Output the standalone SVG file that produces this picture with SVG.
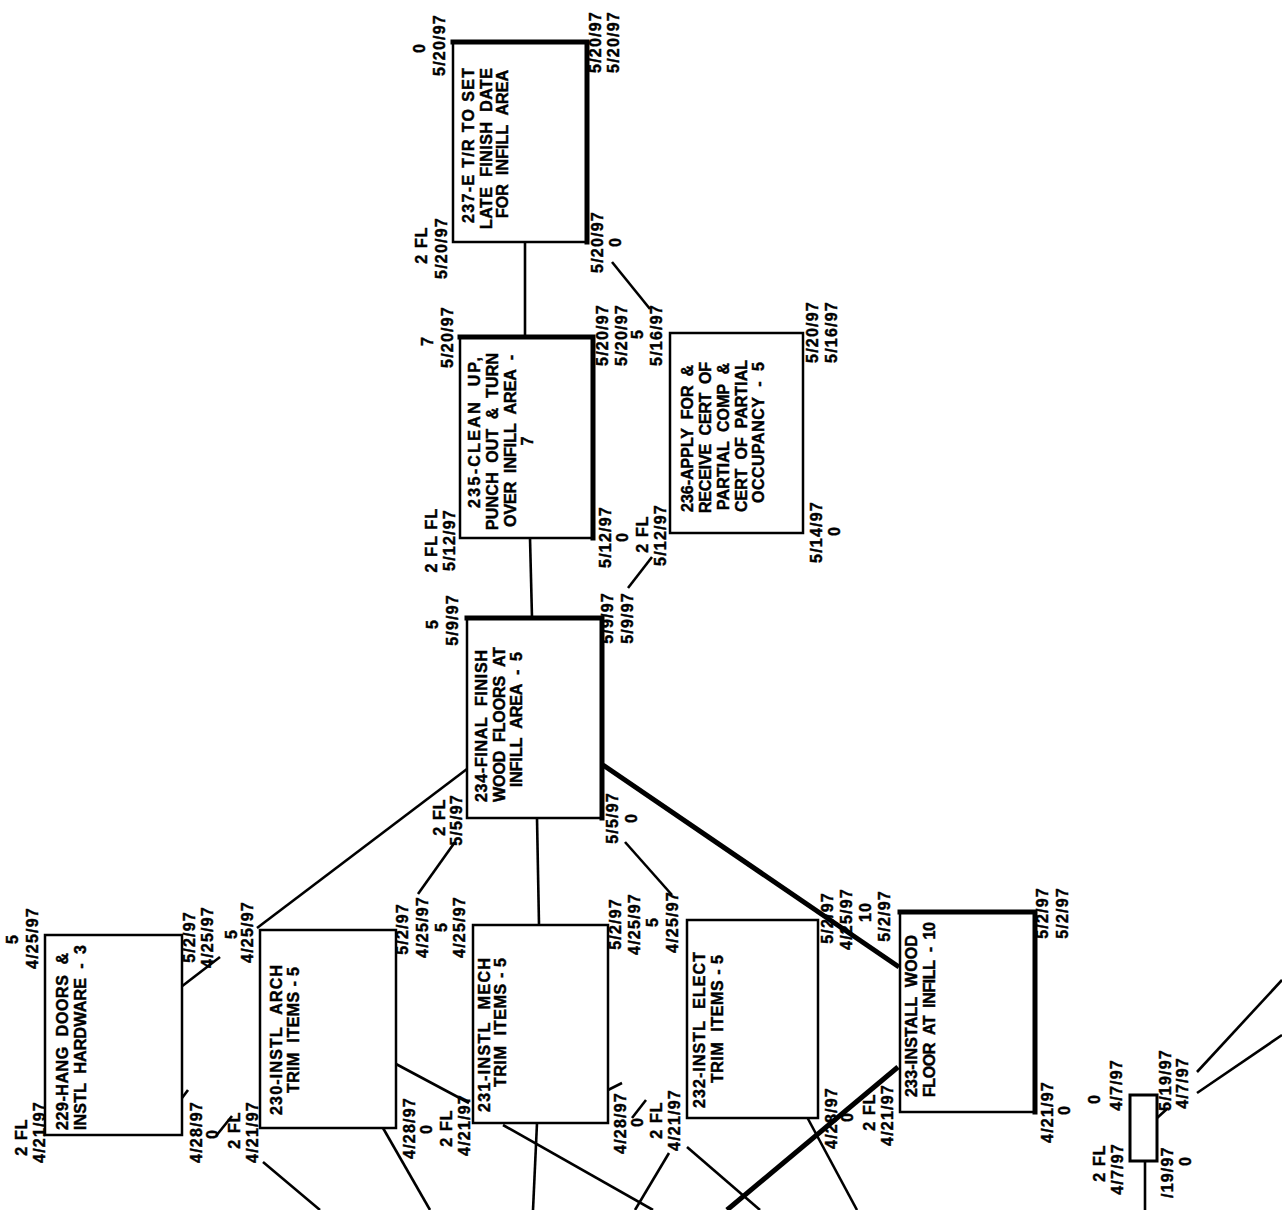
<svg xmlns="http://www.w3.org/2000/svg" width="1282" height="1210" viewBox="0 0 1282 1210">
<style>
text{font-family:"Liberation Sans",Arial,sans-serif;font-weight:bold;font-size:16px;fill:#000;stroke:#000;stroke-width:0.45}
.l{letter-spacing:1.2px;text-anchor:middle}
.m{text-anchor:middle}
.box{fill:#fff;stroke:#000;stroke-width:2.5}
.thk{fill:none;stroke:#000;stroke-width:5;stroke-linecap:square}
.c{fill:none;stroke:#000;stroke-width:2.6}
.ct{fill:none;stroke:#000;stroke-width:5}
</style>
<rect width="1282" height="1210" fill="#fff"/>
<g id="connectors">
<line class="c" x1="525" y1="242" x2="525" y2="337"/>
<line class="c" x1="530" y1="538" x2="532" y2="618"/>
<line class="c" x1="612" y1="262" x2="650" y2="309"/>
<line class="c" x1="628" y1="588" x2="652" y2="557"/>
<line class="c" x1="467" y1="769" x2="257" y2="928"/>
<line class="c" x1="455" y1="842" x2="418" y2="894"/>
<line class="c" x1="537" y1="818" x2="539" y2="925"/>
<line class="c" x1="625" y1="842" x2="672" y2="895"/>
<line class="ct" x1="603" y1="765" x2="899" y2="967"/>
<line class="c" x1="181" y1="987" x2="220" y2="957"/>
<line class="c" x1="216" y1="1136" x2="232" y2="1116"/>
<line class="c" x1="182" y1="1098" x2="188" y2="1090"/>
<line class="c" x1="396" y1="1064" x2="469" y2="1103"/>
<line class="c" x1="383" y1="1128" x2="430" y2="1210"/>
<line class="c" x1="263" y1="1162" x2="320" y2="1210"/>
<line class="c" x1="537" y1="1123" x2="533" y2="1210"/>
<line class="c" x1="503" y1="1125" x2="653" y2="1210"/>
<line class="c" x1="669" y1="1153" x2="635" y2="1210"/>
<line class="c" x1="687" y1="1147" x2="760" y2="1210"/>
<line class="ct" x1="898" y1="1067" x2="727" y2="1210"/>
<line class="c" x1="807" y1="1117" x2="857" y2="1210"/>
<line class="c" x1="632" y1="1118" x2="646" y2="1100"/>
<line class="c" x1="608" y1="1090" x2="622" y2="1083"/>
<line class="c" x1="1145" y1="1161" x2="1145" y2="1210"/>
<line class="c" x1="1157" y1="1118" x2="1168" y2="1108"/>
<line class="c" x1="1282" y1="980" x2="1197" y2="1072"/>
<line class="c" x1="1282" y1="1035" x2="1197" y2="1093"/>
</g>
<g id="n237">
<rect class="box" x="453" y="42" width="134" height="200"/>
<polyline class="thk" points="453,42 587,42 587,242"/>
<text transform="translate(474,223) rotate(-90)" textLength="155" lengthAdjust="spacing">237-E T/R TO SET</text>
<text transform="translate(492,229) rotate(-90)" textLength="161" lengthAdjust="spacing">LATE&#160;&#160;FINISH&#160;&#160;DATE</text>
<text transform="translate(508,218) rotate(-90)" textLength="148" lengthAdjust="spacing">FOR&#160;&#160;INFILL&#160;&#160;AREA</text>
<text class="l" transform="translate(425,48) rotate(-90)">0</text>
<text class="l" transform="translate(445,45) rotate(-90)">5/20/97</text>
<text class="l" transform="translate(427,245) rotate(-90)">2 FL</text>
<text class="l" transform="translate(447,248) rotate(-90)">5/20/97</text>
<text class="l" transform="translate(601,42) rotate(-90)">5/20/97</text>
<text class="l" transform="translate(619,42) rotate(-90)">5/20/97</text>
<text class="l" transform="translate(603,242) rotate(-90)">5/20/97</text>
<text class="l" transform="translate(621,242) rotate(-90)">0</text>
</g>
<g id="n235">
<rect class="box" x="460" y="337" width="133" height="201"/>
<polyline class="thk" points="460,337 593,337 593,538"/>
<text transform="translate(480,508) rotate(-90)" textLength="151" lengthAdjust="spacing">235-CLEAN&#160;&#160;UP,</text>
<text transform="translate(498,530) rotate(-90)" textLength="177" lengthAdjust="spacing">PUNCH&#160;&#160;OUT&#160;&#160;&amp;&#160;&#160;TURN</text>
<text transform="translate(516,527) rotate(-90)" textLength="172" lengthAdjust="spacing">OVER&#160;&#160;INFILL&#160;&#160;AREA&#160;&#160;-</text>
<text class="m" transform="translate(533,441) rotate(-90)">7</text>
<text class="l" transform="translate(433,341) rotate(-90)">7</text>
<text class="l" transform="translate(453,337) rotate(-90)">5/20/97</text>
<text class="l" transform="translate(437,540) rotate(-90)">2 FL FL</text>
<text class="l" transform="translate(455,540) rotate(-90)">5/12/97</text>
<text class="l" transform="translate(608,335) rotate(-90)">5/20/97</text>
<text class="l" transform="translate(627,335) rotate(-90)">5/20/97</text>
<text class="l" transform="translate(611,537) rotate(-90)">5/12/97</text>
<text class="l" transform="translate(628,537) rotate(-90)">0</text>
</g>
<g id="n236">
<rect class="box" x="670" y="333" width="133" height="200"/>
<text transform="translate(693,512) rotate(-90)" textLength="147" lengthAdjust="spacing">236-APPLY&#160;&#160;FOR&#160;&#160;&amp;</text>
<text transform="translate(711,513) rotate(-90)" textLength="151" lengthAdjust="spacing">RECEIVE&#160;&#160;CERT&#160;&#160;OF</text>
<text transform="translate(729,510) rotate(-90)" textLength="147" lengthAdjust="spacing">PARTIAL&#160;&#160;COMP&#160;&#160;&amp;</text>
<text transform="translate(747,512) rotate(-90)" textLength="152" lengthAdjust="spacing">CERT&#160;&#160;OF&#160;&#160;PARTIAL</text>
<text transform="translate(764,503) rotate(-90)" textLength="141" lengthAdjust="spacing">OCCUPANCY&#160;&#160;-&#160;&#160;5</text>
<text class="l" transform="translate(643,334) rotate(-90)">5</text>
<text class="l" transform="translate(662,335) rotate(-90)">5/16/97</text>
<text class="l" transform="translate(648,534) rotate(-90)">2 FL</text>
<text class="l" transform="translate(666,535) rotate(-90)">5/12/97</text>
<text class="l" transform="translate(818,332) rotate(-90)">5/20/97</text>
<text class="l" transform="translate(837,332) rotate(-90)">5/16/97</text>
<text class="l" transform="translate(822,532) rotate(-90)">5/14/97</text>
<text class="l" transform="translate(840,531) rotate(-90)">0</text>
</g>
<g id="n234">
<rect class="box" x="467" y="618" width="135" height="200"/>
<polyline class="thk" points="467,618 602,618 602,818"/>
<text transform="translate(487,802) rotate(-90)" textLength="152" lengthAdjust="spacing">234-FINAL&#160;&#160;FINISH</text>
<text transform="translate(505,802) rotate(-90)" textLength="155" lengthAdjust="spacing">WOOD&#160;&#160;FLOORS&#160;&#160;AT</text>
<text transform="translate(522,787) rotate(-90)" textLength="135" lengthAdjust="spacing">INFILL&#160;&#160;AREA&#160;&#160;-&#160;&#160;5</text>
<text class="l" transform="translate(438,624) rotate(-90)">5</text>
<text class="l" transform="translate(458,620) rotate(-90)">5/9/97</text>
<text class="l" transform="translate(445,817) rotate(-90)">2 FL</text>
<text class="l" transform="translate(462,820) rotate(-90)">5/5/97</text>
<text class="l" transform="translate(613,618) rotate(-90)">5/9/97</text>
<text class="l" transform="translate(633,618) rotate(-90)">5/9/97</text>
<text class="l" transform="translate(618,818) rotate(-90)">5/5/97</text>
<text class="l" transform="translate(637,818) rotate(-90)">0</text>
</g>
<g id="n229">
<rect class="box" x="45" y="935" width="137" height="200"/>
<text transform="translate(68,1130) rotate(-90)" textLength="177" lengthAdjust="spacing">229-HANG&#160;&#160;DOORS&#160;&#160;&amp;</text>
<text transform="translate(86,1130) rotate(-90)" textLength="185" lengthAdjust="spacing">INSTL&#160;&#160;HARDWARE&#160;&#160;-&#160;&#160;3</text>
<text class="l" transform="translate(18,939) rotate(-90)">5</text>
<text class="l" transform="translate(38,938) rotate(-90)">4/25/97</text>
<text class="l" transform="translate(27,1137) rotate(-90)">2 FL</text>
<text class="l" transform="translate(45,1132) rotate(-90)">4/21/97</text>
<text class="l" transform="translate(195,937) rotate(-90)">5/2/97</text>
<text class="l" transform="translate(213,937) rotate(-90)">4/25/97</text>
<text class="l" transform="translate(202,1132) rotate(-90)">4/28/97</text>
<text class="l" transform="translate(218,1134) rotate(-90)">0</text>
</g>
<g id="n230">
<rect class="box" x="260" y="930" width="136" height="198"/>
<text transform="translate(282,1115) rotate(-90)" textLength="150" lengthAdjust="spacing">230-INSTL&#160;&#160;ARCH</text>
<text transform="translate(299,1093) rotate(-90)" textLength="126" lengthAdjust="spacing">TRIM&#160;&#160;ITEMS&#160;-&#160;5</text>
<text class="l" transform="translate(237,934) rotate(-90)">5</text>
<text class="l" transform="translate(253,932) rotate(-90)">4/25/97</text>
<text class="l" transform="translate(240,1130) rotate(-90)">2 FL</text>
<text class="l" transform="translate(258,1132) rotate(-90)">4/21/97</text>
<text class="l" transform="translate(408,929) rotate(-90)">5/2/97</text>
<text class="l" transform="translate(428,927) rotate(-90)">4/25/97</text>
<text class="l" transform="translate(415,1128) rotate(-90)">4/28/97</text>
<text class="l" transform="translate(432,1129) rotate(-90)">0</text>
</g>
<g id="n231">
<rect class="box" x="473" y="925" width="135" height="198"/>
<text transform="translate(490,1112) rotate(-90)" textLength="154" lengthAdjust="spacing">231-INSTL&#160;&#160;MECH</text>
<text transform="translate(506,1087) rotate(-90)" textLength="129" lengthAdjust="spacing">TRIM&#160;&#160;ITEMS&#160;-&#160;5</text>
<text class="l" transform="translate(447,927) rotate(-90)">5</text>
<text class="l" transform="translate(465,927) rotate(-90)">4/25/97</text>
<text class="l" transform="translate(452,1128) rotate(-90)">2 FL</text>
<text class="l" transform="translate(470,1125) rotate(-90)">4/21/97</text>
<text class="l" transform="translate(621,924) rotate(-90)">5/2/97</text>
<text class="l" transform="translate(640,924) rotate(-90)">4/25/97</text>
<text class="l" transform="translate(626,1123) rotate(-90)">4/28/97</text>
<text class="l" transform="translate(643,1122) rotate(-90)">0</text>
</g>
<g id="n232">
<rect class="box" x="687" y="920" width="131" height="198"/>
<text transform="translate(705,1108) rotate(-90)" textLength="156" lengthAdjust="spacing">232-INSTL&#160;&#160;ELECT</text>
<text transform="translate(723,1083) rotate(-90)" textLength="128" lengthAdjust="spacing">TRIM&#160;&#160;ITEMS&#160;-&#160;5</text>
<text class="l" transform="translate(658,922) rotate(-90)">5</text>
<text class="l" transform="translate(678,922) rotate(-90)">4/25/97</text>
<text class="l" transform="translate(662,1120) rotate(-90)">2 FL</text>
<text class="l" transform="translate(680,1120) rotate(-90)">4/21/97</text>
<text class="l" transform="translate(833,918) rotate(-90)">5/2/97</text>
<text class="l" transform="translate(852,919) rotate(-90)">4/25/97</text>
<text class="l" transform="translate(837,1118) rotate(-90)">4/28/97</text>
<text class="l" transform="translate(853,1117) rotate(-90)">0</text>
</g>
<g id="n233">
<rect class="box" x="900" y="912" width="135" height="200"/>
<polyline class="thk" points="900,912 1035,912 1035,1112"/>
<text transform="translate(917,1097) rotate(-90)" textLength="162" lengthAdjust="spacing">233-INSTALL&#160;&#160;WOOD</text>
<text transform="translate(935,1097) rotate(-90)" textLength="175" lengthAdjust="spacing">FLOOR&#160;&#160;AT&#160;&#160;INFILL&#160;&#160;-&#160;&#160;10</text>
<text class="l" transform="translate(871,912) rotate(-90)">10</text>
<text class="l" transform="translate(890,916) rotate(-90)">5/2/97</text>
<text class="l" transform="translate(875,1112) rotate(-90)">2 FL</text>
<text class="l" transform="translate(893,1115) rotate(-90)">4/21/97</text>
<text class="l" transform="translate(1048,913) rotate(-90)">5/2/97</text>
<text class="l" transform="translate(1068,913) rotate(-90)">5/2/97</text>
<text class="l" transform="translate(1053,1112) rotate(-90)">4/21/97</text>
<text class="l" transform="translate(1070,1110) rotate(-90)">0</text>
</g>
<g id="nsmall">
<rect class="box" x="1130" y="1095" width="27" height="66" style="stroke-width:3"/>
<text class="l" transform="translate(1100,1099) rotate(-90)">0</text>
<text class="l" transform="translate(1122,1085) rotate(-90)">4/7/97</text>
<text class="l" transform="translate(1105,1163) rotate(-90)">2 FL</text>
<text class="l" transform="translate(1123,1169) rotate(-90)">4/7/97</text>
<text class="l" transform="translate(1171,1080) rotate(-90)">5/19/97</text>
<text class="l" transform="translate(1188,1083) rotate(-90)">4/7/97</text>
<text transform="translate(1173,1198) rotate(-90)" style="letter-spacing:1.2px">/19/97</text>
<text class="l" transform="translate(1191,1161) rotate(-90)">0</text>
</g>
</svg>
